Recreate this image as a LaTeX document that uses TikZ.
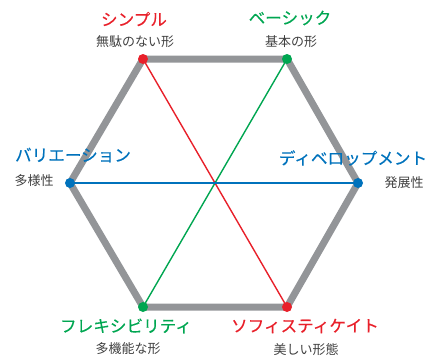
\documentclass[tikz,border=0pt]{standalone}
\usepackage{fontspec}
\newfontfamily\jp{Noto Sans CJK JP}
\newfontfamily\jpm[FakeBold=0.3]{Noto Sans CJK JP}
\definecolor{cred}{HTML}{E8202A}
\definecolor{cgreen}{HTML}{00A651}
\definecolor{cblue}{HTML}{0072BC}
\definecolor{cgray}{HTML}{939598}
\definecolor{ctext}{HTML}{404040}
\begin{document}
\begin{tikzpicture}[x=1pt,y=-1pt,
  title/.style={font=\jpm\fontsize{16.6}{19}\selectfont, inner sep=0pt},
  sub/.style={font=\jp\fontsize{13}{15}\selectfont, text=ctext, inner sep=0pt},
  dot/.style={circle, fill=#1, minimum size=10pt, inner sep=0pt},
  hexline/.style={draw=cgray, line width=7pt},
  cross/.style={draw=#1, line width=1.4pt}]
\useasboundingbox (0,0) rectangle (430,356);
\coordinate (tl) at (143,59);
\coordinate (tr) at (287,59);
\coordinate (r) at (358,183);
\coordinate (br) at (287,307);
\coordinate (bl) at (143,307);
\coordinate (l) at (70,183);
\draw[hexline] (tl) -- (tr) -- (r) -- (br) -- (bl) -- (l) -- cycle;
\draw[cross=cred] (tl) -- (br);
\draw[cross=cgreen] (tr) -- (bl);
\draw[cross=cblue] (l) -- (r);
\node[dot=cred] (ntl) at (tl) {};
\node[dot=cgreen] (ntr) at (tr) {};
\node[dot=cblue] (nr) at (r) {};
\node[dot=cred] (nbr) at (br) {};
\node[dot=cgreen] (nbl) at (bl) {};
\node[dot=cblue] (nl) at (l) {};
\node[title, text=cred] (t1) at (134,19) {シンプル};
\node[sub] (s1) at (135,42) {無駄のない形};
\node[title, text=cgreen] (t2) at (290,18) {ベーシック};
\node[sub] (s2) at (291,42) {基本の形};
\node[title, text=cblue] (t3) at (73,155) {バリエーション};
\node[sub] (s3) at (34,181) {多様性};
\node[title, text=cblue] (t4) at (353,158) {ディベロップメント};
\node[sub] (s4) at (404,183) {発展性};
\node[title, text=cgreen] (t5) at (126,326) {フレキシビリティ};
\node[sub] (s5) at (128,349) {多機能な形};
\node[title, text=cred] (t6) at (305,326) {ソフィスティケイト};
\node[sub] (s6) at (306,350) {美しい形態};
\end{tikzpicture}
\end{document}
